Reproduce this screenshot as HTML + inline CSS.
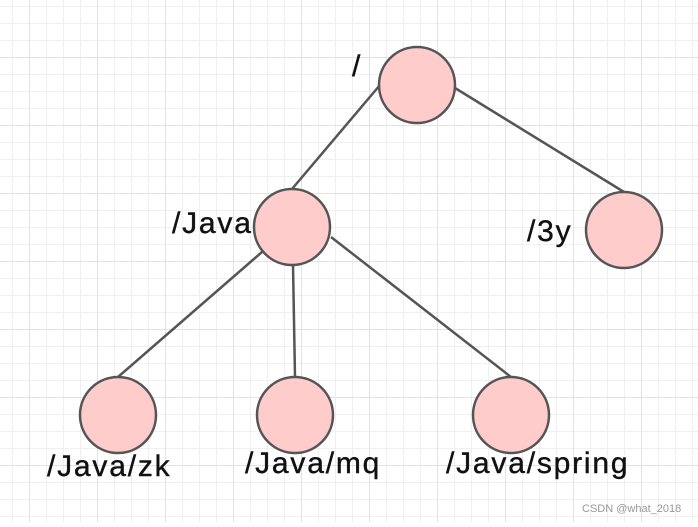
<!DOCTYPE html>
<html><head><style>
body{margin:0;width:698px;height:522px;overflow:hidden;background:#fff;}
</style></head><body>
<svg width="698" height="522" xmlns="http://www.w3.org/2000/svg">
<defs>
<pattern id="g" x="12" y="6" width="17" height="17" patternUnits="userSpaceOnUse">
<path d="M0 0H17M0 0V17" stroke="#ececec" stroke-width="1.5" fill="none"/>
</pattern>
<pattern id="G" x="29" y="57" width="68" height="68" patternUnits="userSpaceOnUse">
<path d="M0 0H68M0 0V68" stroke="#e2e2e2" stroke-width="2" fill="none"/>
</pattern>
</defs>
<rect width="698" height="522" fill="url(#g)"/>
<rect width="698" height="522" fill="url(#G)"/>
<g stroke="#555" stroke-width="2.5">
<line x1="380" y1="85" x2="292" y2="189"/>
<line x1="455" y1="88" x2="624" y2="192"/>
<line x1="262" y1="252" x2="118" y2="377"/>
<line x1="293" y1="265" x2="295" y2="377"/>
<line x1="331" y1="237" x2="511" y2="377"/>
</g>
<g fill="#ffcccc" stroke="#555" stroke-width="2.5">
<circle cx="417" cy="85" r="38"/>
<circle cx="292" cy="227" r="38"/>
<circle cx="624" cy="230" r="38"/>
<circle cx="118" cy="415" r="38"/>
<circle cx="295" cy="415" r="38"/>
<circle cx="511" cy="415" r="38"/>
</g>
<g font-family="Liberation Sans, sans-serif" font-size="30" fill="#111" stroke="#111" stroke-width="0.4" letter-spacing="1.8">
<text x="352" y="76">/</text>
<text x="172" y="233">/Java</text>
<text x="527" y="241">/3y</text>
<text x="47" y="476">/Java/zk</text>
<text x="245" y="473">/Java/mq</text>
<text x="446" y="473">/Java/spring</text>
</g>
<text x="582" y="512" font-family="Liberation Sans, sans-serif" font-size="11" fill="#999">CSDN @what_2018</text>
</svg>
</body></html>
